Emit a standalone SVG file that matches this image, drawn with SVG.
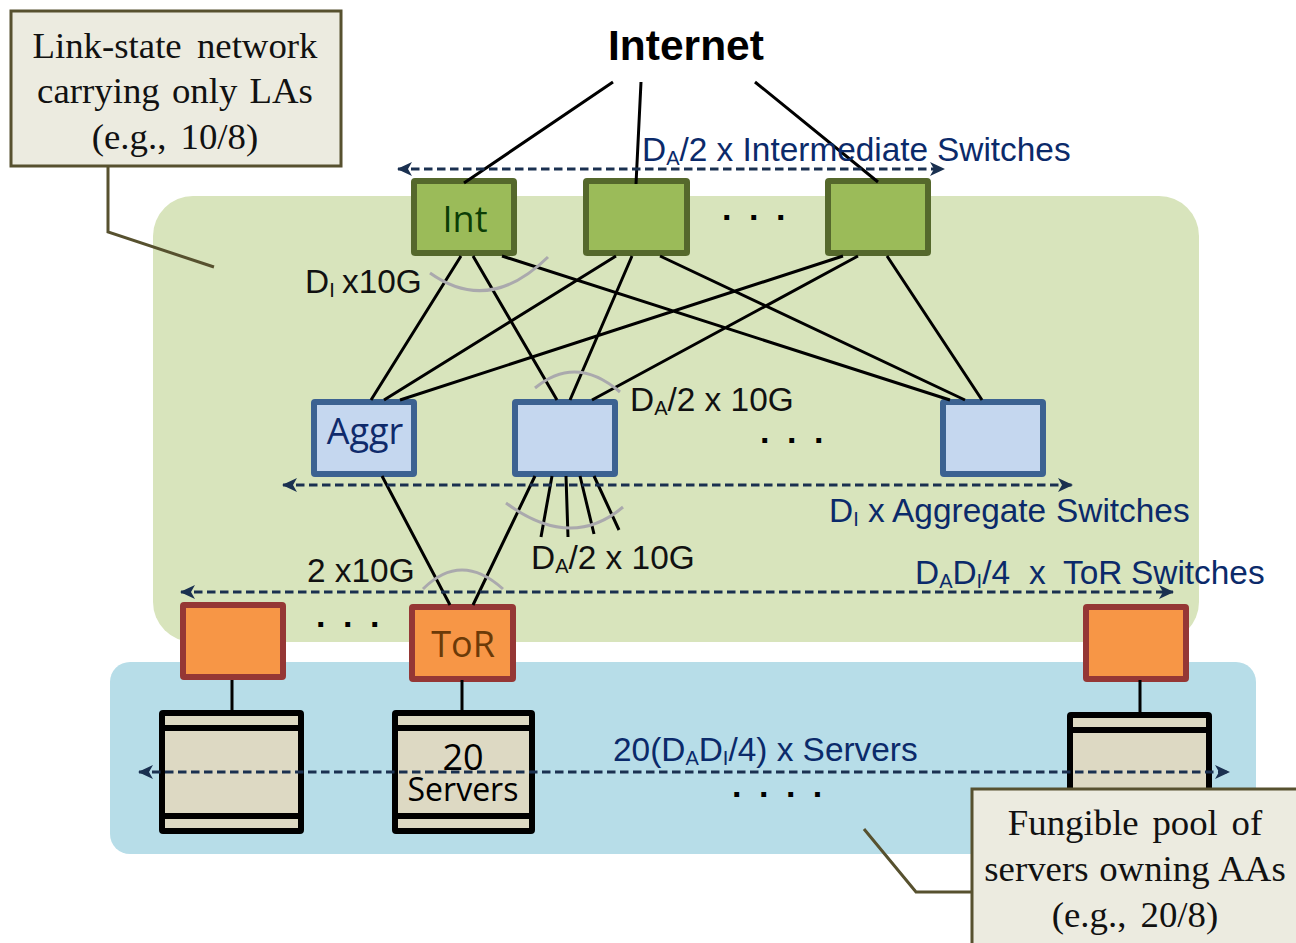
<svg xmlns="http://www.w3.org/2000/svg" width="1296" height="943" viewBox="0 0 1296 943">
<style>
.sans{font-family:"Liberation Sans",Arial,sans-serif}
.lab{font-family:"Liberation Sans",Arial,sans-serif;font-size:33.4px;fill:#111}
.blue{font-family:"Liberation Sans",Arial,sans-serif;font-size:33.4px;fill:#0b2a6a}
.sub{font-size:20px}
.cap{font-family:"Liberation Serif","Times New Roman",serif;font-size:36.8px;fill:#111;text-anchor:middle}
.node{font-family:"Open Sans","Noto Sans",sans-serif;font-size:36px;text-anchor:middle}
.callout{fill:#ecebe0;stroke:#57512f;stroke-width:3}
.leader{fill:none;stroke:#57512f;stroke-width:3}
.int{fill:#9bbb59;stroke:#55682c;stroke-width:6;rx:1px}
.agg{fill:#c5d7ef;stroke:#3c6291;stroke-width:6;rx:1px}
.tor{fill:#f79646;stroke:#953735;stroke-width:6;rx:1px}
.srv{fill:#ddd9c3;stroke:#000;stroke-width:6;rx:1px}
.bar{fill:none;stroke:#000;stroke-width:6}
.link{stroke:#000;stroke-width:3;fill:none}
.arc{stroke:#aaa9ad;stroke-width:3;fill:none}
.span{stroke:#1a3050;stroke-width:3;stroke-dasharray:8.5 4.5;fill:none;marker-start:url(#h);marker-end:url(#h)}
.dots{font-family:"Liberation Sans",Arial,sans-serif;font-size:34px;font-weight:700;fill:#000;letter-spacing:17.5px}
</style>
<defs>
<marker id="h" viewBox="0 0 16 16" refX="14" refY="8" markerWidth="16" markerHeight="16" markerUnits="userSpaceOnUse" orient="auto-start-reverse"><path d="M0 1L15 8L0 15L4 8Z" fill="#1a3050"/></marker>
</defs>

<rect x="153" y="196" width="1046" height="446" rx="40" fill="#d8e4bc"/>
<rect x="110" y="662" width="1146" height="192" rx="20" fill="#b7dde8"/>

<g id="int1"><rect class="int" x="414" y="181" width="100" height="72"/><text class="node" x="465" y="232" fill="#0b3d06">Int</text></g>
<g id="int2"><rect class="int" x="586" y="181" width="101" height="72"/></g>
<g id="int3"><rect class="int" x="828" y="181" width="100" height="72"/></g>
<g id="aggr1"><rect class="agg" x="314" y="402" width="100" height="72"/><text class="node" x="365" y="444" fill="#0f2a6b">Aggr</text></g>
<g id="aggr2"><rect class="agg" x="515" y="402" width="100" height="72"/></g>
<g id="aggr3"><rect class="agg" x="943" y="402" width="100" height="72"/></g>
<g id="tor1"><rect class="tor" x="183" y="605" width="100" height="72"/></g>
<g id="tor2"><rect class="tor" x="412" y="607" width="101" height="72"/><text class="node" x="463" y="657" fill="#6b3a08">ToR</text></g>
<g id="tor3"><rect class="tor" x="1086" y="607" width="100" height="72"/></g>

<g id="servers1"><rect class="srv" x="162" y="713" width="139" height="118"/><path class="bar" d="M162 728H301M162 816H301"/></g>
<g id="servers2"><rect class="srv" x="395" y="713" width="137" height="118"/><path class="bar" d="M395 728H532M395 816H532"/><text class="node" x="463" y="770" fill="#000">20</text><text class="node" x="463" y="801" fill="#000" style="font-size:32px">Servers</text></g>
<g id="servers3"><rect class="srv" x="1070" y="715" width="139" height="118"/><path class="bar" d="M1070 730H1209"/></g>

<g id="connectors">
<path class="link" d="M613 82L464 183M641 82L636 184M755 82L878 182"/>
<path class="link" d="M461 256L371 400M473 256L557 400M502 256L950 400M616 256L384 400M632 256L570 400M660 256L965 400M843 256L400 400M858 256L592 400M887 256L982 400"/>
<path class="link" d="M382 476L450 605M535 476L473 605M552 476L541 537M566 476L568 537M580 476L594 534M594 476L619 530"/>
<path class="link" d="M232 680V712M462 680V712M1140 680V714"/>
<path class="arc" d="M430 273Q489 315 548 257M535 388Q576 354 620 392M506 503Q571 551 623 507M423 589Q461 551 503 589"/>
<path class="span" d="M398 169H944"/>
<path class="span" d="M283 485H1072"/>
<path class="span" d="M181 592H1173"/>
<path class="span" d="M139 772H1229"/>
</g>

<g id="callout-la"><path class="leader" d="M108 167V232L214 267"/><rect class="callout" x="11" y="11" width="330" height="155"/>
<text class="cap" x="175" y="58" style="word-spacing:6px">Link-state network</text><text class="cap" x="175" y="103" style="word-spacing:3px">carrying only LAs</text><text class="cap" x="175" y="149" style="word-spacing:5px">(e.g., 10/8)</text></g>
<g id="callout-aa"><path class="leader" d="M864 829L916 892H972"/><rect class="callout" x="972" y="789" width="340" height="170"/>
<text class="cap" x="1135" y="835" style="word-spacing:4.5px">Fungible pool of</text><text class="cap" x="1135" y="881" style="word-spacing:1.5px">servers owning AAs</text><text class="cap" x="1135" y="927" style="word-spacing:5px">(e.g., 20/8)</text></g>

<text class="sans" x="686" y="60" font-size="42.5" font-weight="700" text-anchor="middle" fill="#000">Internet</text>
<text class="blue" x="642" y="161">D<tspan class="sub" dy="4">A</tspan><tspan dy="-4">/2 x Intermediate</tspan><tspan x="937">Switches</tspan></text>
<text class="lab" x="305" y="293">D<tspan class="sub" dy="4">I</tspan><tspan dy="-4" x="342">x10G</tspan></text>
<text class="lab" x="630" y="411">D<tspan class="sub" dy="4">A</tspan><tspan dy="-4">/2 x 10G</tspan></text>
<text class="blue" x="829" y="522">D<tspan class="sub" dy="4">I</tspan><tspan dy="-4"> x Aggregate</tspan><tspan x="1056">Switches</tspan></text>
<text class="lab" x="531" y="569">D<tspan class="sub" dy="4">A</tspan><tspan dy="-4">/2 x 10G</tspan></text>
<text class="lab" x="307" y="582">2 x10G</text>
<text class="blue" x="915" y="584">D<tspan class="sub" dy="4">A</tspan><tspan dy="-4">D</tspan><tspan class="sub" dy="4">I</tspan><tspan dy="-4">/4</tspan><tspan x="1029">x</tspan><tspan x="1063">ToR</tspan><tspan x="1131">Switches</tspan></text>
<text class="blue" x="613" y="761">20(D<tspan class="sub" dy="4">A</tspan><tspan dy="-4">D</tspan><tspan class="sub" dy="4">I</tspan><tspan dy="-4">/4) x Servers</tspan></text>
<text class="dots" x="722" y="220">...</text>
<text class="dots" x="760" y="443">...</text>
<text class="dots" x="316" y="627">...</text>
<text class="dots" x="732" y="797">....</text>
</svg>
